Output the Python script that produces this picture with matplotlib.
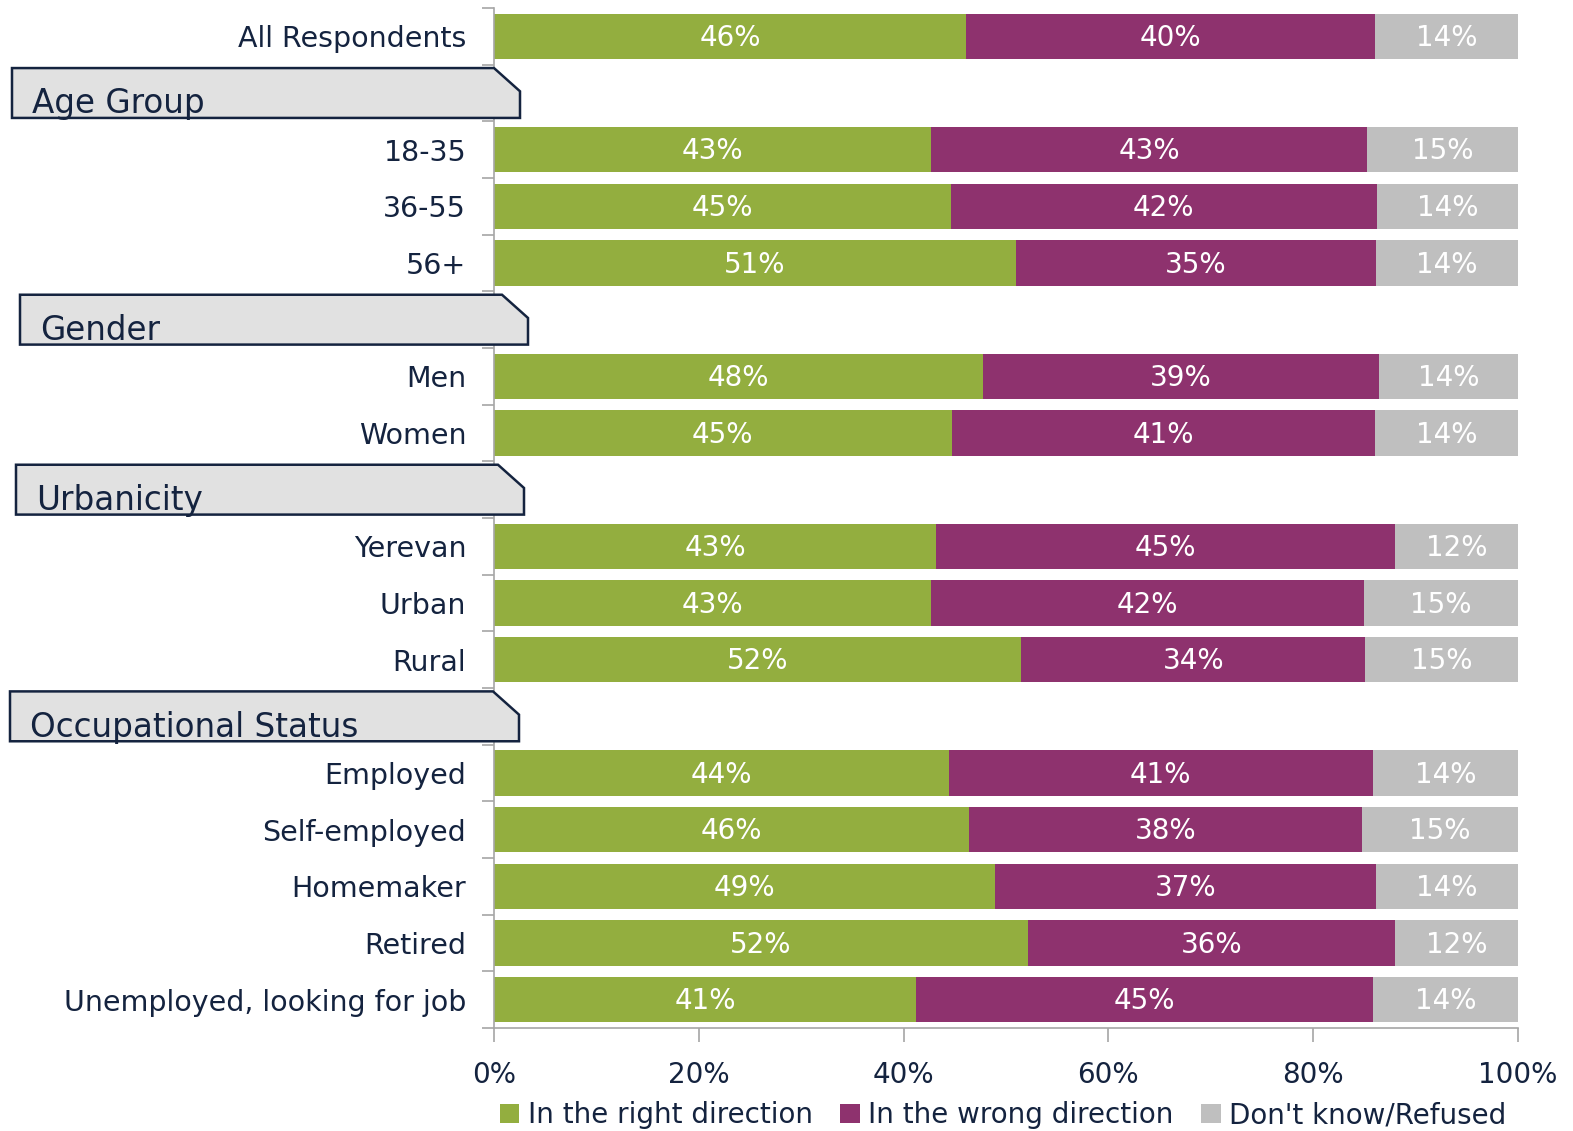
import numpy as np
import matplotlib
matplotlib.use("Agg")
import matplotlib.pyplot as plt
from matplotlib.patches import Polygon
from matplotlib.transforms import blended_transform_factory

# rows, top to bottom; None marks a group header row
rows = ["All Respondents", None, "18-35", "36-55", "56+", None, "Men", "Women",
        None, "Yerevan", "Urban", "Rural", None, "Employed", "Self-employed",
        "Homemaker", "Retired", "Unemployed, looking for job"]
headers = {1: "Age Group", 5: "Gender", 8: "Urbanicity", 12: "Occupational Status"}

right_dir = [46.1, 0, 42.7, 44.6, 51.0, 0, 47.8, 44.7, 0, 43.2, 42.7, 51.5, 0, 44.4, 46.4, 48.9, 52.1, 41.2]
wrong_dir = [39.9, 0, 42.6, 41.6, 35.1, 0, 38.6, 41.3, 0, 44.8, 42.3, 33.6, 0, 41.4, 38.4, 37.2, 35.9, 44.6]
dont_know = [14.0, 0, 14.7, 13.8, 13.9, 0, 13.6, 14.0, 0, 12.0, 15.0, 14.9, 0, 14.2, 15.2, 13.9, 12.0, 14.2]

series = ["In the right direction", "In the wrong direction", "Don't know/Refused"]
colors = ["#93ae3f", "#8e326e", "#bfbfbf"]
navy = "#14233f"

fig = plt.figure(figsize=(15.73, 11.31), dpi=100)
ax = fig.add_axes([494/1573, 1 - 1028/1131, 1024/1573, 1020/1131])

y = np.arange(len(rows))
left = np.zeros(len(rows))
for vals, col, name in zip([right_dir, wrong_dir, dont_know], colors, series):
    vals = np.array(vals)
    ax.barh(y, vals, left=left, height=0.8, color=col, label=name, linewidth=0)
    for i, v in enumerate(vals):
        if v > 0:
            ax.text(left[i] + v / 2, i + 0.03, f"{int(round(v))}%", ha="center", va="center",
                    color="white", fontsize=20)
    left += vals

ax.set_xlim(0, 100)
ax.set_ylim(len(rows) - 0.5, -0.5)
ax.set_xticks(np.arange(0, 101, 20))
ax.set_xticklabels([f"{t}%" for t in range(0, 101, 20)], fontsize=20, color=navy)
ax.set_yticks(y)
ax.set_yticklabels([r if r else "" for r in rows], fontsize=20.5, color=navy)
ax.set_yticks(np.arange(-0.5, len(rows), 1), minor=True)
ax.tick_params(axis="y", which="major", length=0, pad=20)
ax.tick_params(axis="y", which="minor", length=9, color="#a6a6a6", width=1.2)
ax.tick_params(axis="x", length=10, color="#a6a6a6", width=1.2, pad=14)
for s in ["top", "right"]:
    ax.spines[s].set_visible(False)
for s in ["left", "bottom"]:
    ax.spines[s].set_color("#a6a6a6")
    ax.spines[s].set_linewidth(1.2)

# group header tabs
tr = blended_transform_factory(fig.transFigure, ax.transData)
box_x = {1: (12, 520), 5: (20, 528), 8: (16, 524), 12: (10, 519)}
for r, label in headers.items():
    x0, x1 = box_x[r][0] / 1573, box_x[r][1] / 1573
    cut = 26 / 1573
    h = 0.44
    pts = [(x0, r + h), (x0, r - h), (x1 - cut, r - h), (x1, r - h + 0.41), (x1, r + h)]
    ax.add_patch(Polygon(pts, closed=True, transform=tr, facecolor="#e1e1e1",
                         edgecolor=navy, linewidth=1.8, clip_on=False, zorder=5))
    ax.text(x0 + 20 / 1573, r + 0.36, label, transform=tr, fontsize=23.5, color=navy,
            va="baseline", ha="left", zorder=6)

leg = fig.legend(loc="center", bbox_to_anchor=(1003 / 1573, 1 - 1115 / 1131), ncol=3,
                 frameon=False, handlelength=0.7, handleheight=0.7, handletextpad=0.3,
                 columnspacing=1.0, prop={"size": 20})
for t in leg.get_texts():
    t.set_color(navy)

fig.savefig("out.png", dpi=100)
